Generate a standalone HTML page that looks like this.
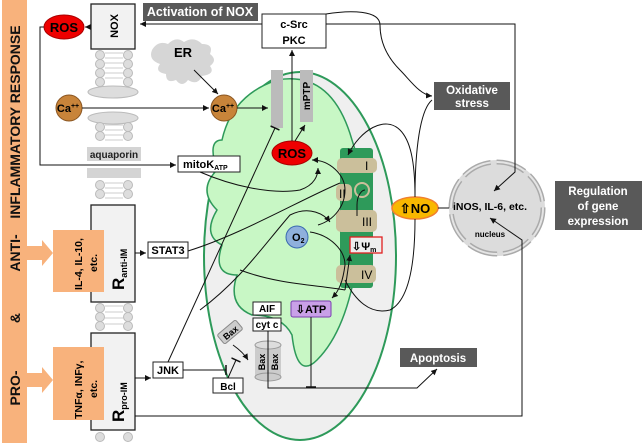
<!DOCTYPE html>
<html><head><style>
body{margin:0;background:#fff;}
svg{display:block;font-family:"Liberation Sans",sans-serif;font-weight:bold;}
</style></head><body>
<svg width="643" height="443" viewBox="0 0 643 443" xmlns="http://www.w3.org/2000/svg">
<defs>
<marker id="a" markerWidth="8" markerHeight="8" refX="6" refY="3" orient="auto" markerUnits="userSpaceOnUse"><path d="M0,0 L6,3 L0,6 z" fill="#111"/></marker>
<marker id="t" markerWidth="2" markerHeight="10" refX="1" refY="5" orient="auto" markerUnits="userSpaceOnUse"><path d="M1,0 L1,10" stroke="#111" stroke-width="1.5"/></marker>
</defs>

<rect x="2" y="0" width="25" height="443" fill="#f8b27c"/>
<g font-size="14" fill="#111" text-anchor="middle">
<text transform="translate(20,388) rotate(-90)">PRO-</text>
<text transform="translate(20,318) rotate(-90)">&amp;</text>
<text transform="translate(20,253) rotate(-90)">ANTI-</text>
<text transform="translate(20,122) rotate(-90)">INFLAMMATORY RESPONSE</text>
</g>
<polygon points="27,246 42,246 42,240 53,253 42,266 42,260 27,260" fill="#f8b27c"/>
<polygon points="27,373 42,373 42,367 53,380 42,393 42,387 27,387" fill="#f8b27c"/>

<g stroke="#bbb" fill="#ddd">
<circle cx="100" cy="55" r="4.5"/><circle cx="128" cy="55" r="4.5"/>
<circle cx="100" cy="64" r="4.5"/><circle cx="128" cy="64" r="4.5"/>
<circle cx="100" cy="73" r="4.5"/><circle cx="128" cy="73" r="4.5"/>
<circle cx="100" cy="82" r="4.5"/><circle cx="128" cy="82" r="4.5"/>
<ellipse cx="113" cy="92" rx="25" ry="6"/>
<ellipse cx="113" cy="118" rx="25" ry="6"/>
<circle cx="100" cy="127" r="4.5"/><circle cx="128" cy="127" r="4.5"/>
<circle cx="100" cy="136" r="4.5"/><circle cx="128" cy="136" r="4.5"/>
<circle cx="100" cy="185" r="4.5"/><circle cx="128" cy="185" r="4.5"/>
<circle cx="100" cy="194" r="4.5"/><circle cx="128" cy="194" r="4.5"/>
<circle cx="100" cy="308" r="4.5"/><circle cx="128" cy="308" r="4.5"/>
<circle cx="100" cy="317" r="4.5"/><circle cx="128" cy="317" r="4.5"/>
<circle cx="100" cy="326" r="4.5"/><circle cx="128" cy="326" r="4.5"/>
<circle cx="100" cy="437" r="4.5"/><circle cx="128" cy="437" r="4.5"/>
</g>
<g stroke="#ccc">
<line x1="105" y1="53" x2="123" y2="53"/><line x1="105" y1="58" x2="123" y2="58"/><line x1="105" y1="63" x2="123" y2="63"/><line x1="105" y1="68" x2="123" y2="68"/><line x1="105" y1="73" x2="123" y2="73"/><line x1="105" y1="78" x2="123" y2="78"/>
<line x1="105" y1="125" x2="123" y2="125"/><line x1="105" y1="130" x2="123" y2="130"/><line x1="105" y1="135" x2="123" y2="135"/><line x1="105" y1="140" x2="123" y2="140"/>
<line x1="105" y1="183" x2="123" y2="183"/><line x1="105" y1="188" x2="123" y2="188"/><line x1="105" y1="193" x2="123" y2="193"/><line x1="105" y1="198" x2="123" y2="198"/>
<line x1="105" y1="306" x2="123" y2="306"/><line x1="105" y1="312" x2="123" y2="312"/><line x1="105" y1="318" x2="123" y2="318"/><line x1="105" y1="324" x2="123" y2="324"/>
</g>
<rect x="87" y="147" width="54" height="14" fill="#d4d4d4"/>
<text x="114" y="158" font-size="10" text-anchor="middle" fill="#222">aquaporin</text>
<rect x="87" y="168" width="54" height="10" fill="#d4d4d4"/>

<rect x="91" y="4" width="44" height="45" fill="#f2f2f2" stroke="#222" stroke-width="1.3"/>
<text transform="translate(118,26) rotate(-90)" font-size="11" text-anchor="middle">NOX</text>
<rect x="143" y="3" width="115" height="18" fill="#595959"/>
<text x="200" y="16" font-size="12.5" fill="#fff" text-anchor="middle">Activation of NOX</text>
<rect x="262" y="14" width="64" height="34" fill="#fff" stroke="#222"/>
<text x="294" y="28" font-size="11" text-anchor="middle">c-Src</text>
<text x="294" y="44" font-size="11" text-anchor="middle">PKC</text>
<ellipse cx="64" cy="27" rx="20" ry="12" fill="#e00" stroke="#a00"/>
<text x="64" y="32" font-size="13" text-anchor="middle">ROS</text>

<path d="M152,50 q6,-10 16,-6 q8,-8 16,-2 q10,-6 18,2 q12,0 8,10 q8,6 0,12 q6,8 -8,10 q-4,10 -14,4 q-6,8 -12,0 q-10,4 -10,-6 q-12,-2 -6,-10 q-12,-4 -8,-14z" fill="#d6d6d6"/>
<text x="183" y="57" font-size="13" text-anchor="middle">ER</text>

<ellipse cx="300" cy="256" rx="96" ry="184" fill="#efefef" stroke="#2e9a5a" stroke-width="2"/>
<path d="M222,140 q10,-45 55,-60 q55,-10 75,60 q20,60 5,120 q-10,70 -40,100 q-20,20 -25,-25 q-10,-20 -40,-20 q-25,-10 -15,-40 q-25,0 -15,-30 q-20,-10 -5,-35 q-20,-20 0,-40 q-10,-30 5,-30z" fill="#c8f7c5" stroke="#2e9a5a" stroke-width="1.5"/>
<rect x="340" y="148" width="33" height="140" rx="3" fill="#2e9a5a"/>
<rect x="337" y="158" width="40" height="15" rx="5" fill="#cbbf9b"/>
<text x="365" y="170" font-size="12" font-weight="normal">I</text>
<rect x="336" y="184" width="16" height="17" rx="5" fill="#cbbf9b"/>
<text x="339" y="198" font-size="12" font-weight="normal">II</text>
<circle cx="362" cy="190" r="7" fill="none" stroke="#cbbf9b" stroke-width="2"/>
<rect x="336" y="210" width="41" height="22" rx="5" fill="#cbbf9b"/>
<text x="362" y="226" font-size="12" font-weight="normal">III</text>
<rect x="336" y="265" width="40" height="18" rx="5" fill="#cbbf9b"/>
<text x="361" y="279" font-size="12" font-weight="normal">IV</text>
<rect x="350" y="237" width="32" height="16" fill="#eee" stroke="#e02020" stroke-width="1.3"/>
<text x="352" y="250" font-size="11">⇩Ψ<tspan font-size="7" dy="2">m</tspan></text>
<circle cx="297" cy="237" r="11" fill="#8fb0dc" stroke="#3a6ab0"/>
<text x="292" y="241" font-size="11">O<tspan font-size="7" dy="2">2</tspan></text>
<ellipse cx="292" cy="153" rx="20" ry="12" fill="#e00" stroke="#a00"/>
<text x="292" y="158" font-size="13" text-anchor="middle">ROS</text>
<rect x="271" y="70" width="12" height="58" fill="#bbb"/>
<rect x="300" y="70" width="13" height="52" fill="#bbb"/>
<text transform="translate(310,96) rotate(-90)" font-size="10" text-anchor="middle">mPTP</text>
<rect x="291" y="301" width="40" height="16" rx="2" fill="#c9a0e8" stroke="#7a3fb0"/>
<text x="311" y="313" font-size="11" text-anchor="middle">⇩ATP</text>
<rect x="253" y="302" width="28" height="13" fill="#fff" stroke="#222"/>
<text x="267" y="312" font-size="10" text-anchor="middle">AIF</text>
<rect x="253" y="318" width="28" height="13" fill="#fff" stroke="#222"/>
<text x="267" y="328" font-size="10" text-anchor="middle">cyt c</text>
<rect x="255" y="345" width="26" height="32" fill="#ccc"/>
<ellipse cx="268" cy="377" rx="13" ry="4" fill="#ccc" stroke="#999"/>
<ellipse cx="268" cy="345" rx="13" ry="4" fill="#ddd" stroke="#999"/>
<text transform="translate(265,362) rotate(-90)" font-size="9" text-anchor="middle">Bax</text>
<text transform="translate(278,362) rotate(-90)" font-size="9" text-anchor="middle">Bax</text>
<g transform="translate(230,332) rotate(-40)"><rect x="-12" y="-6" width="24" height="12" rx="2" fill="#ccc" stroke="#888"/><text y="4" font-size="9" text-anchor="middle">Bax</text></g>
<rect x="213" y="378" width="30" height="15" fill="#fff" stroke="#222"/>
<text x="228" y="390" font-size="10" text-anchor="middle">Bcl</text>

<circle cx="69" cy="108" r="13" fill="#c8843a" stroke="#8a5520"/>
<text x="68" y="112" font-size="11" text-anchor="middle">Ca<tspan font-size="7" dy="-4">++</tspan></text>
<circle cx="224" cy="108" r="13" fill="#c8843a" stroke="#8a5520"/>
<text x="223" y="112" font-size="11" text-anchor="middle">Ca<tspan font-size="7" dy="-4">++</tspan></text>

<rect x="178" y="156" width="62" height="16" fill="#fff" stroke="#222"/>
<text x="183" y="168" font-size="11">mitoK<tspan font-size="7" dy="2">ATP</tspan></text>

<rect x="91" y="205" width="44" height="97" fill="#f2f2f2" stroke="#222" stroke-width="1.3"/>
<text transform="translate(124,290) rotate(-90)" font-size="17">R<tspan font-size="9" dy="3">anti-IM</tspan></text>
<rect x="53" y="230" width="51" height="62" fill="#f8b27c"/>
<text transform="translate(82,290) rotate(-90)" font-size="10.5">IL-4, IL-10,</text>
<text transform="translate(97,272) rotate(-90)" font-size="10.5">etc.</text>
<rect x="91" y="333" width="44" height="97" fill="#f2f2f2" stroke="#222" stroke-width="1.3"/>
<text transform="translate(124,422) rotate(-90)" font-size="17">R<tspan font-size="9" dy="3">pro-IM</tspan></text>
<rect x="53" y="347" width="51" height="73" fill="#f8b27c"/>
<text transform="translate(82,419) rotate(-90)" font-size="10.5">TNFα, INFγ,</text>
<text transform="translate(97,398) rotate(-90)" font-size="10.5">etc.</text>
<rect x="148" y="242" width="40" height="16" fill="#fff" stroke="#222"/>
<text x="168" y="254" font-size="11" text-anchor="middle">STAT3</text>
<rect x="153" y="362" width="30" height="16" fill="#fff" stroke="#222"/>
<text x="168" y="374" font-size="11" text-anchor="middle">JNK</text>

<ellipse cx="415" cy="208" rx="23" ry="11" fill="#f9b800" stroke="#f08030" stroke-width="1.5"/>
<text x="415" y="213" font-size="13" text-anchor="middle">⇧NO</text>
<circle cx="497" cy="208" r="48" fill="#dcdcdc"/>
<circle cx="497" cy="208" r="46" fill="none" stroke="#aaa" stroke-width="5" stroke-dasharray="30 6"/>
<circle cx="497" cy="208" r="46" fill="none" stroke="#e5e5e5" stroke-width="2" stroke-dasharray="30 6"/>
<text x="490" y="210" font-size="10.5" text-anchor="middle">iNOS, IL-6, etc.</text>
<text x="490" y="237" font-size="8" text-anchor="middle">nucleus</text>
<rect x="434" y="82" width="76" height="28" fill="#595959"/>
<text x="472" y="94" font-size="11.5" fill="#fff" text-anchor="middle">Oxidative</text>
<text x="472" y="107" font-size="11.5" fill="#fff" text-anchor="middle">stress</text>
<rect x="555" y="181" width="87" height="49" fill="#595959"/>
<text x="598" y="195" font-size="11.5" fill="#fff" text-anchor="middle">Regulation</text>
<text x="598" y="210" font-size="11.5" fill="#fff" text-anchor="middle">of gene</text>
<text x="598" y="225" font-size="11.5" fill="#fff" text-anchor="middle">expression</text>
<rect x="400" y="348" width="77" height="19" fill="#595959"/>
<text x="438" y="362" font-size="11.5" fill="#fff" text-anchor="middle">Apoptosis</text>

<g fill="none" stroke="#111" stroke-width="1">
<path d="M262,24 H140" marker-end="url(#a)"/>
<path d="M91,27 H85" marker-end="url(#a)"/>
<path d="M44,27 H40 V165 H176" marker-end="url(#a)"/>
<path d="M82,108 H209" marker-end="url(#a)"/>
<path d="M237,108 H268" marker-end="url(#a)"/>
<path d="M194,70 L218,94" marker-end="url(#a)"/>
<path d="M292,141 V50" marker-end="url(#a)"/>
<path d="M295,141 L305,125" marker-end="url(#a)"/>
<path d="M326,24 H515 V172 L494,191" marker-end="url(#a)"/>
<path d="M326,14 C350,10 380,10 380,25 C380,45 390,60 400,70 C410,80 420,95 432,96" marker-end="url(#a)"/>
<path d="M415,197 C415,160 410,140 400,130 C385,115 360,130 348,155" marker-end="url(#a)"/>
<path d="M415,219 C415,260 410,300 390,310 C370,315 355,300 345,280"/>
<path d="M415,197 C415,150 420,110 432,100"/>
<path d="M438,208 H449"/>
<path d="M135,416 H522 V240 L490,218" marker-end="url(#a)"/>
<path d="M268,331 V388 H417 L437,369" marker-end="url(#a)"/>
<path d="M311,317 V387" marker-end="url(#t)"/>
<path d="M135,253 H146" marker-end="url(#a)"/>
<path d="M135,378 H151" marker-end="url(#a)"/>
<path d="M183,370 H226" marker-end="url(#t)"/>
<path d="M228,378 L236,360" marker-end="url(#t)"/>
<path d="M233,345 C240,350 245,355 248,360" marker-end="url(#a)"/>
<path d="M188,251 C240,235 300,200 340,183"/>
<path d="M168,362 L275,128" marker-end="url(#t)"/>
<path d="M200,172 C230,185 270,195 300,190 C315,185 318,175 318,168" marker-end="url(#a)"/>
<path d="M200,310 C240,280 260,250 290,215 C310,205 325,215 330,222" marker-end="url(#a)"/>
<path d="M318,225 C335,220 345,205 345,190 C345,175 330,160 312,160" marker-end="url(#a)"/>
<path d="M310,232 C330,235 345,250 345,265 C343,280 340,290 332,298" marker-end="url(#a)"/>
<path d="M240,270 C280,285 320,285 345,290"/>
<path d="M345,290 L350,255" marker-end="url(#a)"/>
<path d="M357,216 V205 C357,195 362,190 365,190"/>
</g>
</svg>
</body></html>
